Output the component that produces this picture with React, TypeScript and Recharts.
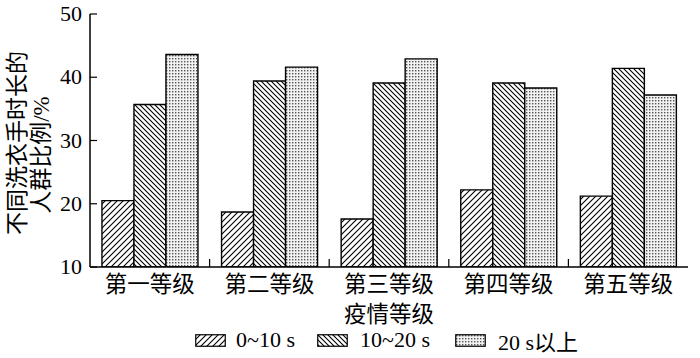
import { BarChart, Bar, XAxis, YAxis } from 'recharts';

// 疫情等级
const categories = ['第一等级', '第二等级', '第三等级', '第四等级', '第五等级'];
const seriesNames = ['0~10 s', '10~20 s', '20 s以上'];
const under10 = [20.5, 18.7, 17.6, 22.2, 21.2];
const from10to20 = [35.7, 39.4, 39.1, 39.1, 41.4];
const over20 = [43.6, 41.6, 42.9, 38.3, 37.2];
const yTicks = [10, 20, 30, 40, 50];

const data = categories.map((c, i) => ({
  name: c,
  a: under10[i],
  b: from10to20[i],
  c: over20[i],
}));

const FONT = "'Liberation Serif', 'Noto Sans CJK SC', serif";
const fills = ['url(#hatchFwd)', 'url(#hatchBack)', 'url(#dots)'];
const legendLeft = [195, 317, 455];

function YTick(props: any) {
  const { x, y, payload } = props;
  return (
    <g>
      {/* 刻度线朝内 */}
      <line x1={x + 8} x2={x + 15} y1={y} y2={y} stroke="#000" strokeWidth={1.2} />
      <text x={x} y={y} dy={7} textAnchor="end" fontSize={22} fontFamily={FONT} fill="#000">
        {payload.value}
      </text>
    </g>
  );
}

function XTick(props: any) {
  const { x, y, payload, index } = props;
  const half = 59.8;
  return (
    <g>
      {index < categories.length - 1 && (
        <line x1={x + half} x2={x + half} y1={y - 2} y2={y - 10} stroke="#000" strokeWidth={1.2} />
      )}
      <text x={x} y={y} dy={23} textAnchor="middle" fontSize={22.5} fontFamily={FONT} fill="#000">
        {payload.value}
      </text>
    </g>
  );
}

function Swatch({ fill }: { fill: string }) {
  return (
    <svg width={31} height={13} style={{ display: 'block' }}>
      <rect x={0.75} y={0.75} width={29.5} height={11.5} fill={fill} stroke="#000" strokeWidth={1.2} />
    </svg>
  );
}

export default function App() {
  return (
    <div style={{ position: 'absolute', left: 0, top: 0, width: 700, height: 358, background: '#fff' }}>
      <BarChart
        width={700}
        height={358}
        data={data}
        margin={{ top: 14, right: 12, bottom: 51, left: 40 }}
        barCategoryGap="10%"
        barGap={0}
      >
        <defs>
          <pattern id="hatchFwd" patternUnits="userSpaceOnUse" width={6} height={6}>
            <rect width={6} height={6} fill="#fff" />
            <path d="M-1,1 L1,-1 M0,6 L6,0 M5,7 L7,5" stroke="#000" strokeWidth={1.1} />
          </pattern>
          <pattern id="hatchBack" patternUnits="userSpaceOnUse" width={5} height={5}>
            <rect width={5} height={5} fill="#fff" />
            <path d="M-1,4 L1,6 M0,0 L5,5 M4,-1 L6,1" stroke="#000" strokeWidth={1.1} />
          </pattern>
          <pattern id="dots" patternUnits="userSpaceOnUse" width={3} height={3}>
            <rect width={3} height={3} fill="#f2f2f2" />
            <rect x={1} y={1} width={1.4} height={1.4} fill="#555" />
          </pattern>
        </defs>
        <XAxis
          dataKey="name"
          height={40}
          axisLine={{ stroke: '#000', strokeWidth: 1.5 }}
          tickLine={false}
          tickSize={0}
          tick={<XTick />}
          interval={0}
          label={{
            content: (p: any) => (
              <text
                x={p.viewBox.x + p.viewBox.width / 2}
                y={322}
                textAnchor="middle"
                fontSize={22.5}
                fontFamily={FONT}
                fill="#000"
              >
                疫情等级
              </text>
            ),
          }}
        />
        <XAxis xAxisId="top" orientation="top" dataKey="name" height={0} tick={false} tickLine={false}
          axisLine={{ stroke: '#000', strokeWidth: 1.5 }} />
        <YAxis
          domain={[10, 50]}
          ticks={yTicks}
          width={50}
          axisLine={{ stroke: '#000', strokeWidth: 1.5 }}
          tickLine={false}
          tickSize={0}
          tickMargin={8}
          tick={<YTick />}
          allowDataOverflow
          label={{
            content: () => (
              <g fontFamily={FONT} fontSize={23} fill="#000">
                <text transform="translate(25,143) rotate(-90)" textAnchor="middle">不同洗衣手时长的</text>
                <text transform="translate(49,155) rotate(-90)" textAnchor="middle">人群比例/%</text>
              </g>
            ),
          }}
        />
        <YAxis yAxisId="right" orientation="right" width={0} domain={[10, 50]} tick={false} tickLine={false}
          axisLine={{ stroke: '#000', strokeWidth: 1.5 }} />
        {(['a', 'b', 'c'] as const).map((k, i) => (
          <Bar
            key={k}
            dataKey={k}
            name={seriesNames[i]}
            fill={fills[i]}
            stroke="#000"
            strokeWidth={1.4}
            isAnimationActive={false}
          />
        ))}
      </BarChart>
      {/* 图例 */}
      {seriesNames.map((n, i) => (
        <div
          key={n}
          style={{
            position: 'absolute', left: legendLeft[i], top: 328, height: 24, display: 'flex',
            alignItems: 'center', fontFamily: FONT, fontSize: 22, color: '#000', whiteSpace: 'nowrap',
          }}
        >
          <Swatch fill={fills[i]} />
          <span style={{ marginLeft: i === 0 ? 10 : 12 }}>{n}</span>
        </div>
      ))}
    </div>
  );
}
